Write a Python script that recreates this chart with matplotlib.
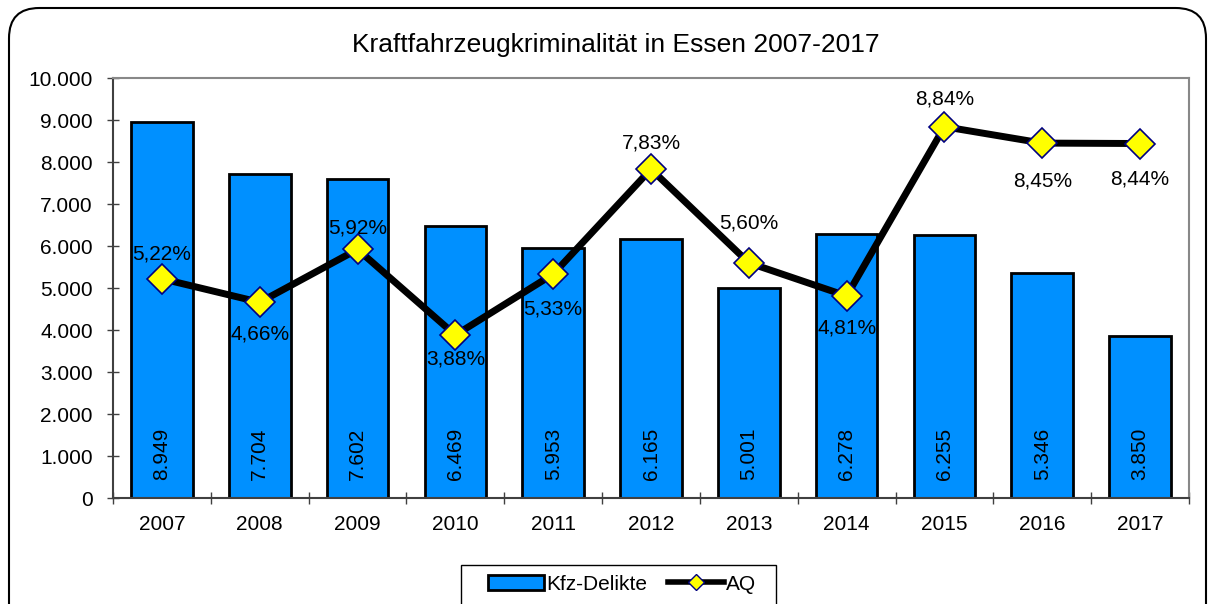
import matplotlib
matplotlib.use("Agg")
import matplotlib.pyplot as plt
from matplotlib.patches import FancyBboxPatch, Rectangle
from matplotlib.ticker import FuncFormatter, FixedLocator

plt.rcParams['font.family'] = ['Liberation Sans', 'DejaVu Sans']

years = ["2007", "2008", "2009", "2010", "2011", "2012", "2013", "2014", "2015", "2016", "2017"]
kfz = [8949, 7704, 7602, 6469, 5953, 6165, 5001, 6278, 6255, 5346, 3850]
aq = [5.22, 4.66, 5.92, 3.88, 5.33, 7.83, 5.60, 4.81, 8.84, 8.45, 8.44]
# vertical offset of each AQ label from its marker, in pixels (negative = above)
aq_label_dy = [-25, 32, -21, 24, 35, -26, -40, 32, -28, 38, 35]

fig = plt.figure(figsize=(12.11, 6.04), dpi=100)

# rounded chart-area border (bottom runs off the image)
border = FancyBboxPatch((9 / 1211, -0.2), (1206 - 9) / 1211, 1.2 - 8 / 604,
                        boxstyle="round,pad=0,rounding_size=0.025",
                        transform=fig.transFigure, fill=False, ec="black", lw=1.5,
                        mutation_aspect=2.0)
fig.patches.append(border)

ax = fig.add_axes([113 / 1211, 1 - 498 / 604, (1189 - 113) / 1211, (498 - 78) / 604])
x = list(range(len(years)))
ax.bar(x, kfz, width=0.63, color="#0090ff", edgecolor="black", lw=2, zorder=2)
for xi, v in zip(x, kfz):
    ax.text(xi, 430, f"{v:,}".replace(",", "."), rotation=90, ha="center", va="bottom",
            fontsize=15, zorder=3)

ax.set_xlim(-0.5, len(years) - 0.5)
ax.set_ylim(0, 10000)
ax.set_yticks(range(0, 10001, 1000))
ax.yaxis.set_major_formatter(FuncFormatter(lambda v, p: f"{int(v):,}".replace(",", ".")))
ax.set_xticks(x)
ax.set_xticklabels(years)
ax.xaxis.set_minor_locator(FixedLocator([i - 0.5 for i in range(len(years) + 1)]))
ax.tick_params(axis="x", which="major", length=0, pad=12, labelsize=15)
ax.tick_params(axis="x", which="minor", direction="inout", length=9, width=1, color="#404040")
ax.tick_params(axis="y", direction="inout", length=9, width=1, color="#404040",
               labelsize=15, pad=10)
for s in ["left", "bottom"]:
    ax.spines[s].set_color("#404040")
    ax.spines[s].set_linewidth(1.5)
for s in ["top", "right"]:
    ax.spines[s].set_color("#888888")
    ax.spines[s].set_linewidth(1.5)

ax2 = ax.twinx()
ax2.set_ylim(0, 10)
ax2.plot(x, aq, color="black", lw=5, marker="D", ms=15, mfc="#ffff00", mec="#000080",
         mew=1.2, zorder=4)
for xi, v, dy in zip(x, aq, aq_label_dy):
    ax2.annotate(f"{v:.2f}%".replace(".", ","), (xi, v), xytext=(0, -dy),
                 textcoords="offset pixels", ha="center", va="center", fontsize=15)
ax2.set_yticks([])
for s in ax2.spines.values():
    s.set_visible(False)

fig.text(616 / 1211, 1 - 45 / 604, "Kraftfahrzeugkriminalität in Essen 2007-2017",
         ha="center", va="center", fontsize=19)

# legend (frame drawn separately so it can run off the bottom edge)
fig.patches.append(Rectangle((461 / 1211, -0.1), (776 - 461) / 1211, 0.1 + 1 - 565 / 604,
                             transform=fig.transFigure, fill=False, ec="black", lw=1))
h1 = plt.Rectangle((0, 0), 1, 1, fc="#0090ff", ec="black", lw=2)
h2 = plt.Line2D([], [], color="black", lw=4, marker="D", ms=8, mfc="#ffff00", mec="#000080")
fig.legend([h1, h2], ["Kfz-Delikte", "AQ"], loc="center",
           bbox_to_anchor=(622 / 1211, 1 - 584 / 604), ncol=2, fontsize=15,
           frameon=False, handlelength=2.7, handletextpad=0.1, columnspacing=1.0,
           borderpad=0)

fig.savefig("out.png", dpi=100)
